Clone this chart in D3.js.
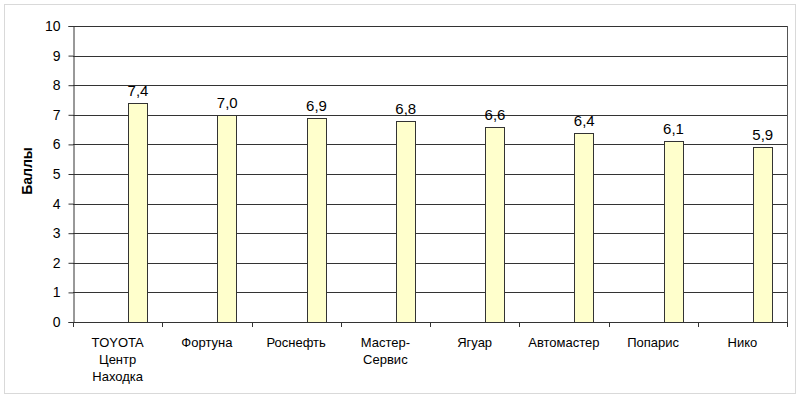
<!DOCTYPE html>
<html>
<head>
<meta charset="utf-8">
<script src="https://cdn.jsdelivr.net/npm/d3@7"></script>
<style>
  body { margin: 0; background: #fff; }
  text { font-family: Arial, "Liberation Sans", sans-serif; fill: #000; }
</style>
</head>
<body>
<div id="chart"></div>
<script>
// Data
const companies = ["TOYOTA\nЦентр\nНаходка", "Фортуна", "Роснефть", "Мастер-\nСервис", "Ягуар", "Автомастер", "Попарис", "Нико"];
const scores = [7.4, 7.0, 6.9, 6.8, 6.6, 6.4, 6.1, 5.9];
const yTicks = [0, 1, 2, 3, 4, 5, 6, 7, 8, 9, 10];

const width = 800;
const height = 398;
const margin = {top: 26, right: 13, bottom: 76, left: 73};
const plotW = width - margin.left - margin.right;
const plotH = height - margin.top - margin.bottom;

const svg = d3.select("#chart")
	.append("svg")
	.attr("width", width)
	.attr("height", height);

// outer frame
svg.append("rect")
	.attr("x", 4.5).attr("y", 4.5)
	.attr("width", 791).attr("height", 389)
	.attr("fill", "#fff")
	.attr("stroke", "#d9d9d9");

const g = svg.append("g")
	.attr("transform", `translate(${margin.left},${margin.top})`);

const x = d3.scaleBand()
	.domain(d3.range(companies.length))
	.range([0, plotW]);

const y = d3.scaleLinear()
	.domain([0, 10])
	.range([plotH, 0]);

// gridlines
g.selectAll(".grid")
	.data(yTicks)
	.enter()
	.append("line")
	.attr("x1", 0).attr("x2", plotW)
	.attr("y1", d => Math.round(y(d)) + 0.5)
	.attr("y2", d => Math.round(y(d)) + 0.5)
	.attr("stroke", "#333");

// right border
g.append("line")
	.attr("x1", plotW + 0.5).attr("x2", plotW + 0.5)
	.attr("y1", 0).attr("y2", plotH)
	.attr("stroke", "#555");

// y axis
const yAxis = g.append("g")
	.attr("transform", "translate(0.5,0)")
	.call(d3.axisLeft(y).tickValues(yTicks).tickSize(5).tickPadding(8));
yAxis.select(".domain").attr("stroke", "#333");
yAxis.selectAll(".tick line").attr("stroke", "#333");
yAxis.selectAll("text").attr("font-size", 14).attr("font-family", "Arial, 'Liberation Sans', sans-serif");

// x axis ticks at category boundaries
g.selectAll(".xtick")
	.data(d3.range(companies.length + 1))
	.enter()
	.append("line")
	.attr("x1", d => Math.round(d * x.step()) + 0.5)
	.attr("x2", d => Math.round(d * x.step()) + 0.5)
	.attr("y1", plotH).attr("y2", plotH + 5)
	.attr("stroke", "#333");

// bars (offset inside each category, as in the original)
const barW = 19;
const barOffset = 55;
g.selectAll(".bar")
	.data(scores)
	.enter()
	.append("rect")
	.attr("class", "bar")
	.attr("x", (d, i) => Math.round(x(i) + barOffset) + 0.5)
	.attr("y", d => Math.round(y(d)) + 0.5)
	.attr("width", barW)
	.attr("height", d => Math.round(plotH - y(d)))
	.attr("fill", "#ffffcc")
	.attr("stroke", "#333");

// value labels
g.selectAll(".val")
	.data(scores)
	.enter()
	.append("text")
	.attr("x", (d, i) => x(i) + barOffset + barW / 2 + 0.5)
	.attr("y", d => y(d) - 7)
	.attr("text-anchor", "middle")
	.attr("font-size", 15)
	.text(d => d.toFixed(1).replace(".", ","));

// category labels
const cat = g.selectAll(".cat")
	.data(companies)
	.enter()
	.append("text")
	.attr("text-anchor", "middle")
	.attr("font-size", 13)
	.attr("transform", (d, i) => `translate(${x(i) + x.bandwidth() / 2},${plotH + 25})`);
cat.selectAll("tspan")
	.data(d => d.split("\n"))
	.enter()
	.append("tspan")
	.attr("x", 0)
	.attr("dy", (d, i) => i === 0 ? 0 : 17)
	.text(d => d);

// y label
svg.append("text")
	.attr("transform", `translate(32,171) rotate(-90)`)
	.attr("text-anchor", "middle")
	.attr("font-size", 14)
	.attr("font-weight", "bold")
	.text("Баллы");
</script>
</body>
</html>
